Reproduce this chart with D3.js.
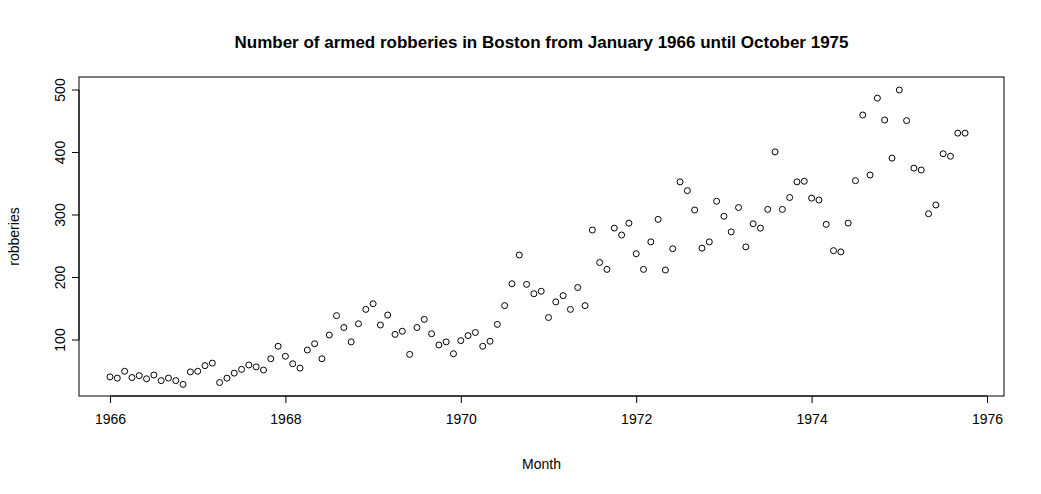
<!DOCTYPE html>
<html><head><meta charset="utf-8">
<script src="https://cdn.jsdelivr.net/npm/d3@7"></script>
<style>body{margin:0;background:#fff;font-family:"Liberation Sans",Arial,sans-serif;}</style>
</head><body><div id="chart"></div>
<script>
// monthly armed robberies, Boston, Jan 1966 - Oct 1975
const startYear = 1966;
const robberies = [
  41, 39, 50, 40, 43, 38, 44, 35, 39, 35, 29, 49,
  50, 59, 63, 32, 39, 47, 53, 60, 57, 52, 70, 90,
  74, 62, 55, 84, 94, 70, 108, 139, 120, 97, 126, 149,
  158, 124, 140, 109, 114, 77, 120, 133, 110, 92, 97, 78,
  99, 107, 112, 90, 98, 125, 155, 190, 236, 189, 174, 178,
  136, 161, 171, 149, 184, 155, 276, 224, 213, 279, 268, 287,
  238, 213, 257, 293, 212, 246, 353, 339, 308, 247, 257, 322,
  298, 273, 312, 249, 286, 279, 309, 401, 309, 328, 353, 354,
  327, 324, 285, 243, 241, 287, 355, 460, 364, 487, 452, 391,
  500, 451, 375, 372, 302, 316, 398, 394, 431, 431
];
const xTicks = [1966, 1968, 1970, 1972, 1974, 1976];
const yTicks = [100, 200, 300, 400, 500];

const W = 1041, H = 494;
const m = {left: 79, right: 1004, top: 77, bottom: 396};

const svg = d3.select('#chart').append('svg').attr('width', W).attr('height', H);

const x = d3.scaleLinear().domain([1966, 1976]).range([110, 987]);
const y = d3.scaleLinear().domain([100, 500]).range([340, 90]);

svg.append('rect').attr('x', m.left).attr('y', m.top)
    .attr('width', m.right - m.left).attr('height', m.bottom - m.top)
    .attr('fill', 'none').attr('stroke', '#000');

svg.append('g').attr('transform', `translate(0,${m.bottom})`)
    .call(d3.axisBottom(x).tickValues(xTicks).tickFormat(d3.format('d')).tickSize(7).tickSizeOuter(0))
    .call((g) => g.select('.domain').attr('d', `M${x(1966)},0H${x(1976)}`))
    .selectAll('text').attr('font-size', '14px').attr('dy', '1.3em')
    .attr('font-family', '"Liberation Sans",Arial,sans-serif');

const ya = svg.append('g').attr('transform', `translate(${m.left},0)`)
    .call(d3.axisLeft(y).tickValues(yTicks).tickSize(7).tickSizeOuter(0));
ya.select('.domain').attr('d', `M0,${y(100)}V${y(500)}`);
ya.selectAll('.tick').attr('transform', null);
ya.selectAll('.tick line').attr('y1', (d) => y(d)).attr('y2', (d) => y(d));
ya.selectAll('.tick text').attr('font-size', '14px')
    .attr('font-family', '"Liberation Sans",Arial,sans-serif')
    .attr('text-anchor', 'middle')
    .attr('transform', (d) => `translate(-19,${y(d)}) rotate(-90)`)
    .attr('x', 0).attr('y', 0).attr('dy', '0.35em');

svg.append('g').selectAll('circle').data(robberies).enter().append('circle')
    .attr('cx', (d, i) => x(startYear + i / 12))
    .attr('cy', (d) => y(d))
    .attr('r', 3)
    .attr('fill', 'none').attr('stroke', '#000').attr('stroke-width', 1);

svg.append('text').attr('x', (m.left + m.right) / 2).attr('y', 48)
    .attr('text-anchor', 'middle').attr('font-size', '17px').attr('font-weight', 'bold')
    .text('Number of armed robberies in Boston from January 1966 until October 1975');
svg.append('text').attr('x', (m.left + m.right) / 2).attr('y', 469)
    .attr('text-anchor', 'middle').attr('font-size', '14px').text('Month');
svg.append('text').attr('transform', `translate(19,${(m.top + m.bottom) / 2}) rotate(-90)`)
    .attr('text-anchor', 'middle').attr('font-size', '14px').text('robberies');
</script></body></html>
